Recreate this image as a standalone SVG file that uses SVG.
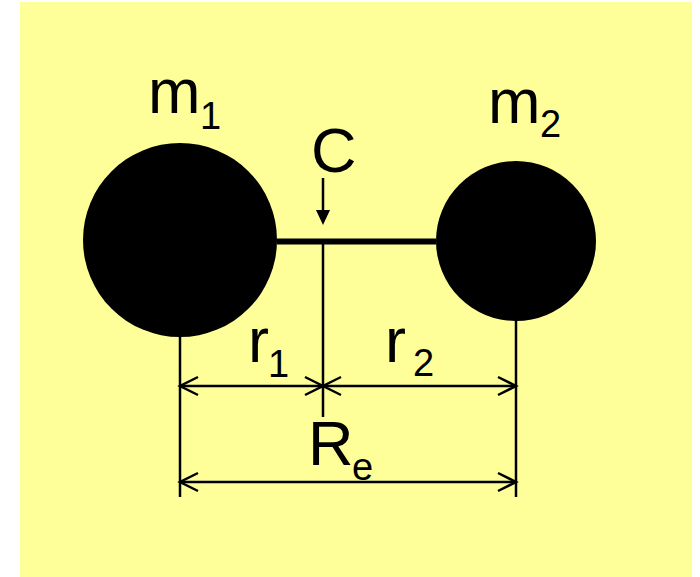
<svg xmlns="http://www.w3.org/2000/svg" width="700" height="577" viewBox="0 0 700 577">
<style>
.t{font-family:"Liberation Sans",Arial,sans-serif;fill:#000}
.big{font-size:63px}
.sub{font-size:38px}
.ln{stroke:#000;stroke-width:2.5;fill:none}
.ah{stroke:#000;stroke-width:2.5;fill:none;stroke-linecap:butt}
</style>
<rect x="20" y="2" width="672" height="575" fill="#FFFF99"/>
<g id="connectors">
<line x1="277" y1="241.5" x2="436" y2="241.5" stroke="#000" stroke-width="6"/>
<line class="ln" x1="323" y1="244" x2="323" y2="417"/>
<line class="ln" x1="180" y1="337" x2="180" y2="497"/>
<line class="ln" x1="516" y1="320" x2="516" y2="497"/>
<line class="ln" x1="323" y1="178" x2="323" y2="212"/>
<polygon points="316,210 330,210 323,225" fill="#000"/>
<line class="ln" x1="180" y1="386" x2="516" y2="386"/>
<line class="ln" x1="180" y1="482" x2="516" y2="482"/>
<polyline class="ah" points="198,377 180,386 198,395"/>
<polyline class="ah" points="305,377 323,386 305,395"/>
<polyline class="ah" points="341,377 323,386 341,395"/>
<polyline class="ah" points="498,377 516,386 498,395"/>
<polyline class="ah" points="198,473 180,482 198,491"/>
<polyline class="ah" points="498,473 516,482 498,491"/>
</g>
<g id="m1">
<circle cx="180" cy="240" r="97" fill="#000"/>
<text class="t big" x="148" y="113">m</text>
<text class="t sub" x="200" y="129">1</text>
</g>
<g id="m2">
<circle cx="516" cy="241" r="80" fill="#000"/>
<text class="t big" x="488" y="123">m</text>
<text class="t sub" x="540" y="137">2</text>
</g>
<g id="C">
<text class="t big" x="311" y="172">C</text>
</g>
<g id="r1">
<text class="t big" x="248" y="362">r</text>
<text class="t sub" x="268" y="377">1</text>
</g>
<g id="r2">
<text class="t big" x="385" y="362">r</text>
<text class="t sub" x="413" y="376">2</text>
</g>
<g id="Re">
<text class="t big" x="308" y="465">R</text>
<text class="t sub" x="352" y="480">e</text>
</g>
</svg>
